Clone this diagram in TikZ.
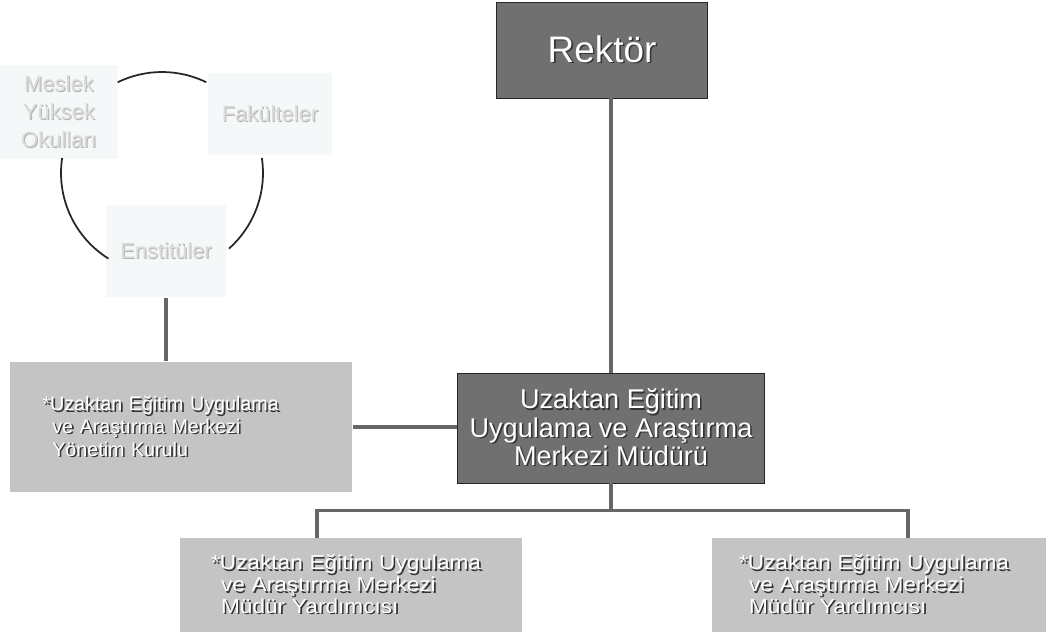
\documentclass[tikz,border=0pt]{standalone}
\usepackage{fontspec}
\setmainfont{Liberation Sans}
\newfontfamily\widesans[FakeStretch=1.12]{Liberation Sans}
\usetikzlibrary{positioning,calc}
\definecolor{darkbox}{HTML}{707070}
\definecolor{lightbox}{HTML}{C4C4C4}
\definecolor{ghostbox}{HTML}{F5F8F8}
\definecolor{ghosttext}{HTML}{DCDCDC}
% white text with a dark drop shadow
\newcommand{\shd}[1]{\makebox[0pt][l]{\hspace{0.9pt}\raisebox{-0.9pt}{\textcolor{black!80}{#1}}}#1}
\newcommand{\ghd}[1]{\makebox[0pt][l]{\hspace{0.5pt}\raisebox{-0.5pt}{\textcolor{black!30}{#1}}}#1}

\begin{document}
\begin{tikzpicture}
    [x=0.02cm, y=-0.02cm,
     darknode/.style={draw=black!85, fill=darkbox, text=white, align=center},
     lightnode/.style={fill=lightbox, text=white, align=left},
     ghostnode/.style={fill=ghostbox, text=ghosttext, align=center,
                       font=\fontsize{12.5}{16}\selectfont},
     link/.style={draw=black!60, line width=2pt},
     ring/.style={draw=black!85, line width=1pt}]

    \useasboundingbox (0,0) rectangle (1049,635);

    % faculties ring
    \node[ghostnode, minimum width=2.36cm, minimum height=1.9cm] (meslek) at (59,112)
        {\ghd{Meslek}\\\ghd{Yüksek}\\\ghd{Okulları}};
    \node[ghostnode, minimum width=2.5cm, minimum height=1.66cm] (fakulte) at (270,114)
        {\ghd{Fakülteler}};
    \node[ghostnode, minimum width=2.4cm, minimum height=1.86cm] (enstitu) at (166,251)
        {\ghd{Enstitüler}};

    \coordinate (ringc) at (162,173);
    \draw[ring] ([shift={(116:2.02cm)}]ringc) arc[start angle=116, end angle=64, radius=2.02cm];
    \draw[ring] ([shift={(8.5:2.02cm)}]ringc) arc[start angle=8.5, end angle=-48.5, radius=2.02cm];
    \draw[ring] ([shift={(171.5:2.02cm)}]ringc) arc[start angle=171.5, end angle=238, radius=2.02cm];

    % main boxes
    \node[darknode, minimum width=4.22cm, minimum height=1.92cm,
          font=\fontsize{21}{24}\selectfont] (rektor) at (602,50) {\shd{Rektör}};
    \node[darknode, minimum width=6.14cm, minimum height=2.2cm,
          font=\fontsize{15.4}{16}\selectfont] (mudur) at (611,428)
        {\shd{Uzaktan Eğitim}\\\shd{Uygulama ve Araştırma}\\\shd{Merkezi Müdürü}};

    \node[lightnode, text width=5.54cm, inner xsep=0.66cm, minimum height=2.62cm,
          font=\fontsize{11.2}{13}\selectfont] (yonetim) at (181,427)
        {\shd{*Uzaktan Eğitim Uygulama}\\\hspace*{0.5em}\shd{ve Araştırma Merkezi}\\\hspace*{0.5em}\shd{Yönetim Kurulu}};

    \node[lightnode, text width=5.6cm, inner xsep=0.62cm, minimum height=1.88cm,
          font=\widesans\fontsize{11.5}{12.4}\selectfont] (yard1) at (351,585)
        {\shd{*Uzaktan Eğitim Uygulama}\\\hspace*{0.5em}\shd{ve Araştırma Merkezi}\\\hspace*{0.5em}\shd{Müdür Yardımcısı}};
    \node[lightnode, text width=5.6cm, inner xsep=0.55cm, minimum height=1.88cm,
          font=\widesans\fontsize{11.5}{12.4}\selectfont] (yard2) at (879,585)
        {\shd{*Uzaktan Eğitim Uygulama}\\\hspace*{0.5em}\shd{ve Araştırma Merkezi}\\\hspace*{0.5em}\shd{Müdür Yardımcısı}};

    % connectors
    \draw[link] (mudur.north) -- (mudur.north |- rektor.south);
    \draw[link] (yonetim.east) -- (yonetim.east -| mudur.west);
    \draw[link] (enstitu.south) -- (enstitu.south |- yonetim.north);
    \coordinate (bus) at ($(mudur.south)+(0,27)$);
    \draw[link] (mudur.south) -- (bus);
    \draw[link] ([xshift=-0.68cm]yard1.north) |- (bus) -| ([xshift=0.58cm]yard2.north);

\end{tikzpicture}
\end{document}
